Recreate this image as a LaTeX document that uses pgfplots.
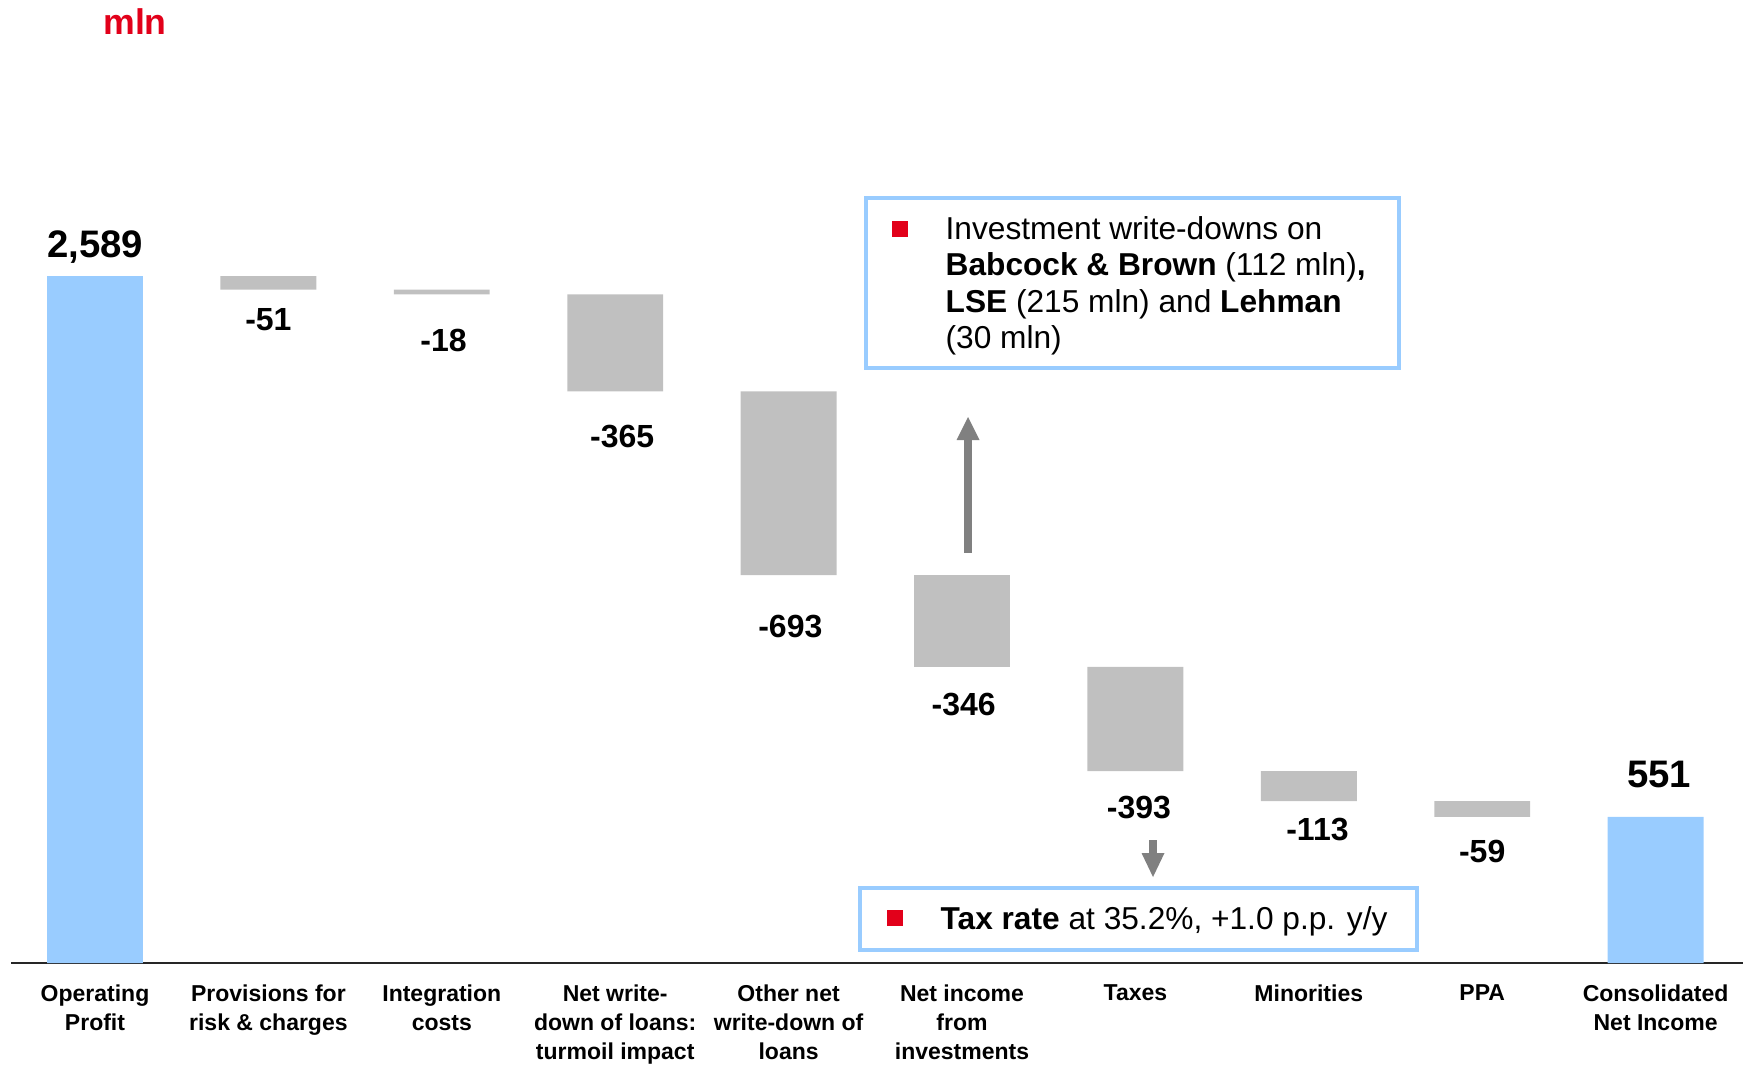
\documentclass[border=0pt]{standalone}
\usepackage{fontspec}
\setmainfont{Liberation Sans}
\usepackage{pgfplots}
\pgfplotsset{compat=1.18}
\usepackage{pgfplotstable}

\definecolor{totalblue}{HTML}{99CCFF}
\definecolor{stepgrey}{HTML}{C0C0C0}
\definecolor{brandred}{HTML}{E2001A}
\definecolor{arrowgrey}{HTML}{808080}

% Waterfall: invisible base, blue totals, grey decrements
\pgfplotstableread{
x base total delta
0 0    2589 0
1 2538 0    51
2 2520 0    18
3 2155 0    365
4 1462 0    693
5 1116 0    346
6 723  0    393
7 610  0    113
8 551  0    59
9 0    551  0
}\waterfall

\newcommand{\totfont}{\bfseries\fontsize{11.5}{13}\selectfont}
\newcommand{\stepfont}{\bfseries\fontsize{9.6}{11}\selectfont}
\newcommand{\notefont}{\fontsize{9.5}{10.8}\selectfont}

\begin{document}
\begin{tikzpicture}
\begin{axis}[
  at={(0,0)}, anchor=south west,
  scale only axis, width=519.6pt, height=288.9pt,
  xmin=-0.4844, xmax=9.504, ymin=0, ymax=3630,
  axis x line=bottom, axis y line=none,
  x axis line style={-, black!85, line width=0.5pt},
  ytick=\empty,
  xtick={0,...,9},
  major tick length=0pt,
  xticklabels={{Operating\\Profit},{Provisions for\\risk \& charges},{Integration\\costs},{Net write-\\down of loans:\\turmoil impact},{Other net\\write-down of\\loans},{Net income\\from\\investments},{Taxes},{Minorities},{PPA},{Consolidated\\Net Income}},
  xticklabel style={font=\bfseries\fontsize{6.9}{8.7}\selectfont, align=center, anchor=north, yshift=-2.9pt},
  ybar stacked, bar width=0.553,
  clip=false,
]
\addplot[draw=none, fill=none] table[x=x, y=base] {\waterfall};
\addplot[draw=none, fill=totalblue] table[x=x, y=total] {\waterfall};
\addplot[draw=none, fill=stepgrey] table[x=x, y=delta] {\waterfall};

\node[font=\totfont] at (axis cs:0,2699) {2,589};
\node[font=\stepfont] at (axis cs:1,2424) {-51};
\node[font=\stepfont] at (axis cs:2.01,2348) {-18};
\node[font=\stepfont] at (axis cs:3.04,1986) {-365};
\node[font=\stepfont] at (axis cs:4.01,1270) {-693};
\node[font=\stepfont] at (axis cs:5.01,976) {-346};
\node[font=\stepfont] at (axis cs:6.02,588) {-393};
\node[font=\stepfont] at (axis cs:7.05,505) {-113};
\node[font=\stepfont] at (axis cs:8,422) {-59};
\node[font=\totfont] at (axis cs:9.02,712) {551};
\end{axis}

% annotations, in pixel-like units (1 unit = 0.3pt, y downwards)
\begin{scope}[shift={(-3.3pt,288.9pt)},x=0.3pt,y=-0.3pt]
% unit label
\node[font=\bfseries\fontsize{10.7}{12}\selectfont, text=brandred] at (135,22) {mln};

% investments note
\draw[totalblue, line width=1.2pt, fill=white] (866,198) rectangle (1399,368);
\fill[brandred] (892,221) rectangle (908,237);
\node[font=\notefont, anchor=base west, inner sep=0] at (945,240) {Investment write-downs on};
\node[font=\notefont, anchor=base west, inner sep=0] at (945,276) {\textbf{Babcock \& Brown} (112 mln)\textbf{,}};
\node[font=\notefont, anchor=base west, inner sep=0] at (945,312) {\textbf{LSE} (215 mln) and \textbf{Lehman}};
\node[font=\notefont, anchor=base west, inner sep=0] at (945,348) {(30 mln)};

% tax note
\draw[totalblue, line width=1.2pt, fill=white] (860,888) rectangle (1417,950);
\fill[brandred] (887,910) rectangle (903,926);
\node[font=\notefont, anchor=base west, inner sep=0] at (940,929) {\textbf{Tax rate} at 35.2\%, +1.0 p.p. y/y};

% arrows
\fill[arrowgrey] (964,553) rectangle (972,439);
\fill[arrowgrey] (956.5,440) -- (979.5,440) -- (968,417) -- cycle;
\fill[arrowgrey] (1149,840) rectangle (1157,854);
\fill[arrowgrey] (1141.5,853) -- (1164.5,853) -- (1153,877) -- cycle;

% page frame
\pgfresetboundingbox
\path[use as bounding box] (0,0) rectangle (1752,1066);
\end{scope}
\end{tikzpicture}
\end{document}
